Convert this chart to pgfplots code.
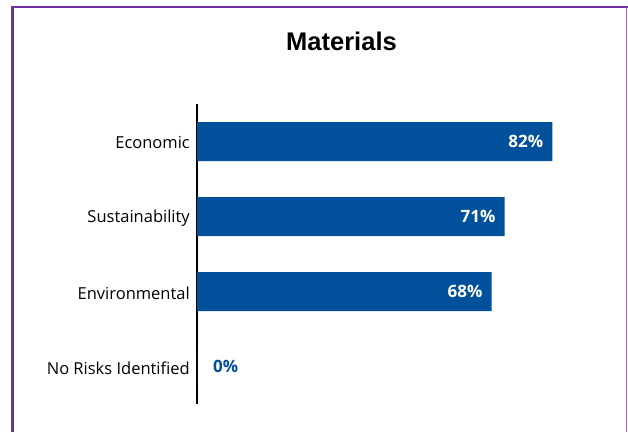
\documentclass[border=0pt]{standalone}
\usepackage{pgfplots}
\pgfplotsset{compat=1.18}
\usepackage{fontspec}
\setmainfont{Open Sans}
\newfontfamily\titlefont{Liberation Sans}
\definecolor{barblue}{RGB}{0,80,155}
\definecolor{frame}{RGB}{112,48,160}
\begin{document}
\begin{tikzpicture}[x=1pt,y=1pt]
\useasboundingbox (0,0) rectangle (628,432);
\fill[white] (0,0) rectangle (628,432);
\draw[frame, line width=2.7pt] (12.3,0) -- (12.3,425);
\draw[frame, line width=2.5pt] (11,425) -- (628,425);
\draw[frame!70, line width=1.2pt] (626.7,0) -- (626.7,425);
\node[font=\titlefont\bfseries\fontsize{25.5}{28}\selectfont, anchor=center] at (341.5,390.5) {Materials};
\begin{axis}[
  at={(197pt,28pt)}, anchor=south west,
  scale only axis, width=390pt, height=300pt,
  xbar, bar width=39pt, bar shift=0pt,
  xmin=0, xmax=90,
  ymin=-0.5, ymax=3.5,
  hide x axis,
  axis y line*=left,
  y axis line style={-, line width=2pt, black},
  ytick={0,1,2,3},
  yticklabels={No Risks Identified, Environmental, Sustainability, Economic},
  yticklabel style={font=\fontsize{16.5}{18}\selectfont, inner sep=0pt, anchor=east, xshift=-7pt, yshift=-1.5pt},
  major tick length=0pt,
  point meta=x,
  clip=false,
]
\addplot[fill=barblue, draw=none,
  nodes near coords={\pgfmathprintnumber[assume math mode=true]{\pgfplotspointmeta}\%},
  every node near coord/.append style={anchor=east, inner sep=0pt, xshift=-9pt, text=white, font=\bfseries\fontsize{17}{18}\selectfont}]
  coordinates {(82,3) (71,2) (68,1)};
\addplot[fill=barblue, draw=none,
  nodes near coords={\pgfmathprintnumber[assume math mode=true]{\pgfplotspointmeta}\%},
  every node near coord/.append style={anchor=west, inner sep=0pt, xshift=16pt, text=barblue, font=\bfseries\fontsize{17}{18}\selectfont}]
  coordinates {(0,0)};
\end{axis}
\end{tikzpicture}
\end{document}
